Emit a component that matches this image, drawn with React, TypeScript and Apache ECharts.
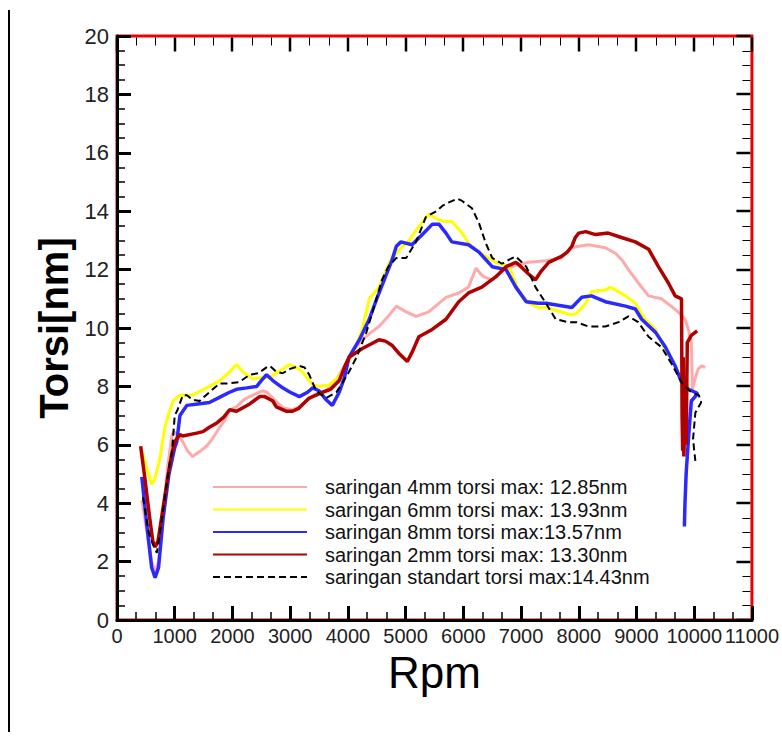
import React, { useEffect, useRef } from "react";
import * as echarts from "echarts";

const xTicks = { min: 0, max: 11000, interval: 1000 };
const yTicks = { min: 0, max: 20, interval: 2 };
const xMinorSplit = 3;
const yMinorSplit = 4;

const seriesNames = [
  "saringan 4mm torsi max: 12.85nm",
  "saringan 6mm torsi max: 13.93nm",
  "saringan 8mm torsi max:13.57nm",
  "saringan 2mm torsi max: 13.30nm",
  "saringan standart torsi max:14.43nm",
];

const rpm4mm = [430, 520, 600, 660, 720, 800, 880, 950, 980, 1050, 1140, 1220, 1310, 1420, 1550, 1650, 1780, 1870, 1950, 2070, 2200, 2350, 2520, 2600, 2700, 2800, 2900, 3040, 3150, 3280, 3450, 3620, 3750, 3850, 4000, 4080, 4250, 4400, 4540, 4700, 4840, 5010, 5180, 5400, 5550, 5700, 5920, 6090, 6220, 6300, 6360, 6500, 6670, 6910, 7130, 7430, 7700, 7880, 8000, 8170, 8460, 8640, 8760, 8860, 9030, 9210, 9430, 9600, 9750, 9840, 9900, 9950, 9960, 9970, 10020, 10070, 10130, 10190];
const torque4mm = [4.1, 3.0, 2.0, 1.65, 2.0, 3.6, 5.3, 6.3, 6.45, 6.35, 6.1, 5.8, 5.6, 5.75, 5.95, 6.2, 6.6, 6.85, 7.2, 7.3, 7.55, 7.7, 7.85, 7.8, 7.6, 7.4, 7.25, 7.2, 7.3, 7.5, 7.75, 7.85, 8.1, 8.4, 8.9, 9.2, 9.6, 9.85, 10.05, 10.4, 10.75, 10.55, 10.4, 10.55, 10.8, 11.05, 11.2, 11.4, 12.05, 11.85, 11.75, 11.65, 11.95, 12.15, 12.25, 12.3, 12.4, 12.75, 12.8, 12.85, 12.75, 12.55, 12.3, 12.0, 11.55, 11.1, 11.0, 10.75, 10.5, 10.3, 9.95, 9.5, 8.8, 7.9, 8.3, 8.6, 8.7, 8.65];

const rpm6mm = [430, 500, 560, 600, 650, 740, 830, 900, 970, 1090, 1200, 1310, 1450, 1600, 1780, 1950, 2070, 2180, 2350, 2470, 2640, 2800, 2990, 3100, 3210, 3390, 3500, 3680, 3850, 3970, 4100, 4250, 4370, 4540, 4720, 4900, 5060, 5200, 5400, 5580, 5700, 5800, 5980, 6090, 6270, 6560, 6790, 6960, 7130, 7300, 7430, 7700, 7880, 7960, 8120, 8220, 8460, 8550, 8810, 8980, 9150, 9330, 9500, 9670, 9780, 9900];
const torque6mm = [5.8, 5.3, 4.9, 4.65, 4.8, 5.5, 6.6, 7.1, 7.5, 7.7, 7.7, 7.7, 7.85, 8.0, 8.2, 8.5, 8.75, 8.5, 8.25, 8.3, 8.3, 8.5, 8.75, 8.65, 8.5, 8.05, 8.0, 8.05, 8.35, 8.7, 9.2, 9.95, 11.0, 11.4, 12.25, 12.7, 13.0, 13.4, 13.9, 13.7, 13.65, 13.65, 13.25, 12.9, 12.6, 12.25, 12.1, 11.3, 10.85, 10.7, 10.7, 10.55, 10.45, 10.5, 10.85, 11.25, 11.3, 11.4, 11.1, 10.85, 10.3, 9.95, 9.25, 8.7, 8.25, 8.0];

const rpm8mm = [430, 520, 600, 660, 720, 800, 900, 1000, 1035, 1090, 1210, 1400, 1600, 1800, 1950, 2070, 2250, 2420, 2500, 2590, 2700, 2870, 3000, 3160, 3300, 3390, 3500, 3620, 3730, 3850, 3940, 4020, 4200, 4370, 4500, 4660, 4760, 4840, 4920, 5110, 5290, 5460, 5580, 5700, 5800, 6090, 6270, 6500, 6740, 6910, 7090, 7300, 7430, 7880, 8050, 8220, 8460, 8810, 8980, 9090, 9330, 9500, 9670, 9780, 9900, 10020, 10060, 9950, 9900, 9860, 9840, 9830];
const torque8mm = [4.9, 3.2, 1.8, 1.45, 1.8, 3.5, 5.0, 5.9, 6.1, 7.0, 7.35, 7.4, 7.45, 7.65, 7.8, 7.9, 7.95, 8.0, 8.2, 8.4, 8.2, 7.95, 7.8, 7.65, 7.8, 7.95, 7.85, 7.55, 7.35, 7.8, 8.3, 9.0, 9.6, 10.3, 11.0, 11.8, 12.3, 12.8, 12.95, 12.85, 13.2, 13.55, 13.55, 13.25, 12.95, 12.85, 12.6, 12.1, 12.0, 11.4, 10.9, 10.85, 10.85, 10.7, 11.05, 11.1, 10.9, 10.75, 10.65, 10.3, 9.85, 9.35, 8.7, 8.15, 7.9, 7.8, 7.75, 7.5, 6.2, 5.0, 4.0, 3.2];

const rpm2mm = [410, 480, 560, 620, 660, 710, 780, 880, 950, 1000, 1090, 1140, 1380, 1490, 1600, 1730, 1850, 1950, 2070, 2300, 2470, 2560, 2700, 2760, 2930, 3040, 3150, 3330, 3450, 3560, 3700, 3850, 3950, 4020, 4250, 4400, 4540, 4650, 4770, 4900, 5030, 5120, 5230, 5460, 5700, 5920, 6090, 6320, 6560, 6740, 6910, 7000, 7130, 7250, 7350, 7480, 7700, 7800, 7880, 7940, 8000, 8120, 8290, 8510, 8740, 8980, 9210, 9380, 9550, 9670, 9780, 9790, 9800, 9810, 9820, 9840, 9860, 9880, 9950, 10050];
const torque2mm = [5.95, 4.9, 3.6, 2.7, 2.5, 2.7, 3.6, 4.9, 5.7, 6.1, 6.35, 6.3, 6.4, 6.45, 6.6, 6.75, 6.95, 7.2, 7.15, 7.4, 7.65, 7.65, 7.5, 7.3, 7.15, 7.15, 7.25, 7.6, 7.7, 7.8, 7.9, 8.2, 8.7, 9.0, 9.3, 9.45, 9.6, 9.55, 9.4, 9.1, 8.85, 9.2, 9.7, 9.95, 10.3, 10.9, 11.2, 11.4, 11.75, 12.1, 12.25, 12.1, 11.85, 11.65, 11.95, 12.25, 12.45, 12.6, 12.8, 13.1, 13.25, 13.3, 13.2, 13.25, 13.1, 12.95, 12.7, 12.1, 11.55, 11.1, 11.0, 7.0, 5.8, 9.0, 5.6, 7.0, 6.0, 9.5, 9.75, 9.9];

const rpmStd = [450, 550, 620, 690, 760, 850, 915, 950, 1000, 1050, 1140, 1210, 1300, 1430, 1600, 1780, 1920, 2120, 2300, 2450, 2590, 2650, 2760, 2870, 3000, 3160, 3250, 3330, 3450, 3620, 3800, 3900, 4020, 4150, 4320, 4450, 4590, 4700, 4840, 5010, 5180, 5350, 5530, 5650, 5750, 5900, 5980, 6150, 6270, 6390, 6500, 6670, 6800, 6910, 7090, 7250, 7430, 7600, 7820, 7960, 8170, 8460, 8690, 8860, 9030, 9210, 9430, 9600, 9780, 9840, 9950, 10080, 10120, 10020, 9980, 10000, 10020];
const torqueStd = [4.2, 3.0, 2.6, 2.3, 3.2, 4.5, 5.4, 5.7, 7.0, 7.2, 7.7, 7.7, 7.55, 7.5, 7.8, 8.1, 8.1, 8.15, 8.4, 8.45, 8.65, 8.7, 8.5, 8.45, 8.6, 8.7, 8.65, 8.4, 7.85, 7.6, 7.8, 8.1, 8.5, 9.0, 9.85, 10.7, 11.65, 12.1, 12.4, 12.4, 12.95, 13.8, 14.0, 14.2, 14.3, 14.43, 14.35, 14.1, 13.6, 12.9, 12.4, 12.2, 12.35, 12.45, 12.1, 11.4, 10.85, 10.3, 10.2, 10.2, 10.05, 10.05, 10.2, 10.4, 10.2, 9.7, 9.35, 8.8, 8.15, 8.0, 7.8, 7.7, 7.45, 7.1, 6.2, 5.8, 5.45];

const colors = ["#ffaaaa", "#ffff00", "#2a2aff", "#b00000", "#000000"];

const zip = (xs: number[], ys: number[]) => xs.map((x, i) => [x, ys[i]]);

const FONT = "'Liberation Sans', Arial, sans-serif";

// mirror ticks for the top and right frame edges: [value, side(0=top,1=right), isMajor]
function mirrorTicks() {
  const out: number[][] = [];
  const addSide = (t: { min: number; max: number; interval: number }, split: number, side: number) => {
    const step = t.interval / split;
    const n = Math.round((t.max - t.min) / step);
    for (let k = 0; k <= n; k++) {
      out.push([t.min + k * step, side, k % split === 0 ? 1 : 0]);
    }
  };
  addSide(xTicks, xMinorSplit, 0);
  addSide(yTicks, yMinorSplit, 1);
  return out;
}

export default function App() {
  const ref = useRef<HTMLDivElement>(null);
  useEffect(() => {
    if (!ref.current) return;
    const chart = echarts.init(ref.current, null, { renderer: "svg" });
    const datasets = [
      zip(rpm4mm, torque4mm),
      zip(rpm6mm, torque6mm),
      zip(rpm8mm, torque8mm),
      zip(rpm2mm, torque2mm),
      zip(rpmStd, torqueStd),
    ];
    const widths = [3, 3, 3.5, 3.5, 2];
    const plain = (v: number) => String(v);
    const tickSeries = {
      type: "custom",
      name: "frameTicks",
      silent: true,
      clip: false,
      z: 20,
      xAxisIndex: 0,
      yAxisIndex: 0,
      data: mirrorTicks(),
      renderItem: (_params: any, api: any) => {
        const v = api.value(0);
        const side = api.value(1);
        const major = api.value(2) === 1;
        const len = major ? 14 : 8;
        const w = major ? 2.5 : 1;
        if (side === 0) {
          const p = api.coord([v, yTicks.max]);
          const x = Math.round(p[0]) + (major ? 0 : 0.5);
          return {
            type: "line",
            shape: { x1: x, y1: p[1] + 1.5, x2: x, y2: p[1] + 1.5 + len },
            style: { stroke: "#000", lineWidth: w },
          };
        }
        const p = api.coord([xTicks.max, v]);
        const y = Math.round(p[1]) + (major ? 0 : 0.5);
        return {
          type: "line",
          shape: { x1: p[0] - 1.5, y1: y, x2: p[0] - 1.5 - len, y2: y },
          style: { stroke: "#000", lineWidth: w },
        };
      },
    };
    chart.setOption({
      animation: false,
      backgroundColor: "#fff",
      grid: {
        left: 117,
        right: 28,
        top: 36,
        bottom: 119,
        show: true,
        borderColor: "#ee0000",
        borderWidth: 3,
        backgroundColor: "transparent",
      },
      legend: {
        orient: "vertical",
        left: 207,
        top: 472,
        itemWidth: 94,
        itemHeight: 14,
        itemGap: 2.5,
        selectedMode: false,
        itemStyle: { opacity: 0 },
        data: seriesNames,
        textStyle: { fontSize: 20, fontFamily: FONT, color: "#111", lineHeight: 20, padding: [0, 0, 0, 13] },
      },
      xAxis: {
        type: "value",
        ...xTicks,
        position: "bottom",
        name: "Rpm",
        nameLocation: "middle",
        nameGap: 30,
        nameTextStyle: { fontSize: 44, fontFamily: FONT, color: "#000" },
        axisLine: { show: true, onZero: false, lineStyle: { color: "#000", width: 3 } },
        axisLabel: { fontSize: 20, fontFamily: FONT, color: "#222", margin: 6, formatter: plain },
        axisTick: { show: true, inside: true, length: 14, lineStyle: { color: "#000", width: 3 } },
        minorTick: { show: true, splitNumber: xMinorSplit, length: 8, lineStyle: { color: "#000", width: 1.5 } },
        splitLine: { show: false },
        minorSplitLine: { show: false },
      },
      yAxis: {
        type: "value",
        ...yTicks,
        position: "left",
        name: "Torsi[nm]",
        nameLocation: "middle",
        nameGap: 42,
        nameTextStyle: { fontSize: 40, fontWeight: "bold", fontFamily: FONT, color: "#000" },
        axisLine: { show: true, onZero: false, lineStyle: { color: "#000", width: 3 } },
        axisLabel: { fontSize: 22, fontFamily: FONT, color: "#222", margin: 8, formatter: plain },
        axisTick: { show: true, inside: true, length: 14, lineStyle: { color: "#000", width: 3 } },
        minorTick: { show: true, splitNumber: yMinorSplit, length: 8, lineStyle: { color: "#000", width: 1.5 } },
        splitLine: { show: false },
        minorSplitLine: { show: false },
      },
      graphic: [
        {
          type: "line",
          shape: { x1: 9, y1: 10, x2: 9, y2: 732 },
          style: { stroke: "#000", lineWidth: 2 },
        },
      ],
      series: [
        ...seriesNames.map((name, i) => ({
          name,
          type: "line",
          data: datasets[i],
          symbol: "none",
          showSymbol: false,
          color: colors[i],
          lineStyle: {
            color: colors[i],
            width: widths[i],
            type: i === 4 ? [7, 4] : "solid",
          },
          z: 2 + i,
        })),
        tickSeries,
      ],
    });
    return () => chart.dispose();
  }, []);
  return (
    <div
      ref={ref}
      style={{ position: "absolute", left: 0, top: 0, width: 782, height: 739 }}
    />
  );
}
